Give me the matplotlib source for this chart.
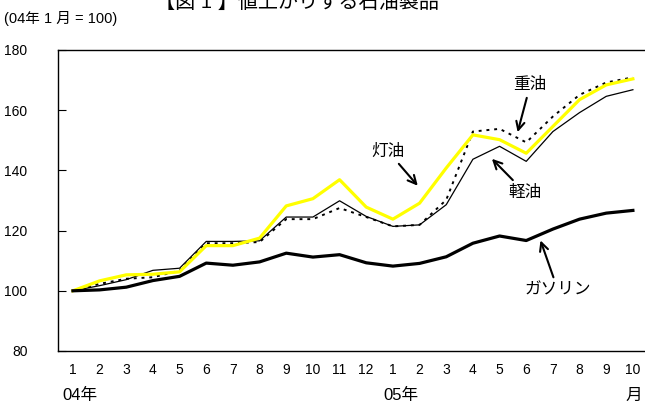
import matplotlib
matplotlib.use('Agg')
import matplotlib.pyplot as plt

plt.rcParams['font.family'] = ['Liberation Sans', 'Noto Sans CJK JP', 'DejaVu Sans']

# months 04/1 .. 05/10
months = [1, 2, 3, 4, 5, 6, 7, 8, 9, 10, 11, 12, 1, 2, 3, 4, 5, 6, 7, 8, 9, 10]

# index values (04年1月 = 100)
gasoline = [100, 100.3, 101.2, 103.4, 104.8, 109.2, 108.5, 109.6, 112.5, 111.2, 112, 109.3,
            108.2, 109.1, 111.3, 115.8, 118.2, 116.7, 120.5, 123.8, 125.8, 126.7]
kerosene = [100, 103.3, 105.3, 105.5, 106.3, 115, 115, 117.5, 128.2, 130.6, 136.9, 127.8,
            123.8, 129.1, 140.8, 151.8, 150.2, 145.7, 154.6, 163.5, 168.4, 170.4]
light_oil = [100, 101.7, 103.7, 106.8, 107.5, 116.4, 116.4, 116.6, 124.5, 124.5, 129.9, 124.7,
             121.4, 121.9, 128.6, 143.7, 148, 143, 152.9, 159.2, 164.6, 166.8]
heavy_oil = [100, 102.3, 104, 104.5, 106.7, 115.8, 115.8, 116.2, 123.8, 123.8, 127.5, 124.5,
             121.4, 121.9, 130.2, 152.9, 153.8, 149.3, 157.9, 165.1, 169.2, 170.9]

x = list(range(len(months)))

fig = plt.figure(figsize=(6.45, 4.07), dpi=100)
ax = fig.add_axes([0.0899, 0.1376, 0.912, 0.7396])

ax.plot(x, light_oil, color='black', lw=0.9)
ax.plot(x, heavy_oil, color='black', lw=1.4, ls=(0, (1.5, 2.5)))
ax.plot(x, kerosene, color='#ffff00', lw=2.3)
ax.plot(x, gasoline, color='black', lw=2.3)

ax.set_xlim(-0.56, 21.5)
ax.set_ylim(80, 180)
ax.set_yticks([80, 100, 120, 140, 160, 180])
ax.set_xticks(x)
ax.set_xticklabels([str(m) for m in months])
ax.tick_params(axis='y', direction='in', length=6, pad=22, labelsize=10)
ax.tick_params(axis='x', length=0, pad=9, labelsize=10)
ax.spines['right'].set_visible(False)
for s in ['left', 'top', 'bottom']:
    ax.spines[s].set_linewidth(1.0)

# labels with arrows
arrow = dict(arrowstyle='->', color='black', lw=1.5, mutation_scale=15)
ax.annotate('重油', xy=(16.65, 151.8), xytext=(17.15, 168.4),
            ha='center', va='center', fontsize=12, arrowprops=arrow)
ax.annotate('灯油', xy=(13.0, 134.2), xytext=(11.82, 146.3),
            ha='center', va='center', fontsize=12, arrowprops=arrow)
ax.annotate('軽油', xy=(15.64, 144.5), xytext=(16.95, 132.7),
            ha='center', va='center', fontsize=12, arrowprops=arrow)
ax.annotate('ガソリン', xy=(17.5, 117.6), xytext=(18.19, 100.2),
            ha='center', va='center', fontsize=12, arrowprops=arrow)

fig.text(0.46, 0.995, '【図 1 】値上がりする石油製品', ha='center', va='center', fontsize=14.5)
fig.text(0.006, 0.955, '(04年 1 月 = 100)', ha='left', va='center', fontsize=10.5)
fig.text(0.096, 0.029, '04年', ha='left', va='center', fontsize=12)
fig.text(0.594, 0.029, '05年', ha='left', va='center', fontsize=12)
fig.text(0.969, 0.029, '月', ha='left', va='center', fontsize=12)

fig.savefig('out.png', dpi=100)
